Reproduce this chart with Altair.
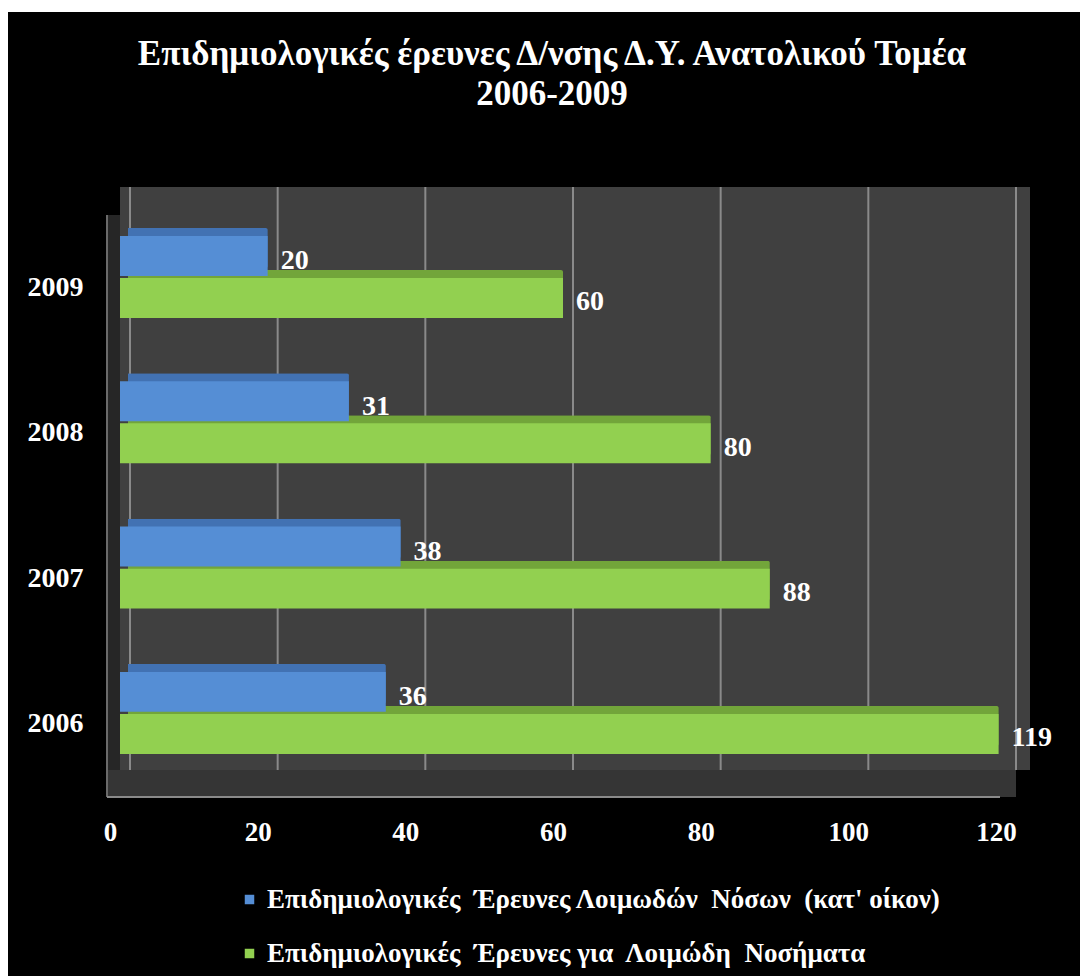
import altair as alt
import pandas as pd

# Survey counts per year, two survey types
years = ["2009", "2008", "2007", "2006"]
series = [
    "Επιδημιολογικές\u00a0 Έρευνες Λοιμωδών\u00a0 Νόσων\u00a0 (κατ' οίκον)",
    "Επιδημιολογικές\u00a0 Έρευνες για\u00a0 Λοιμώδη\u00a0 Νοσήματα",
]
household_surveys = [20, 31, 38, 36]
disease_surveys = [60, 80, 88, 119]
x_ticks = [0, 20, 40, 60, 80, 100, 120]

colors = ["#558ed5", "#92d050"]
dark_colors = ["#4272b3", "#72a53a"]

rows = []
for i, y in enumerate(years):
    rows.append({"year": y, "series": series[0], "value": household_surveys[i]})
    rows.append({"year": y, "series": series[1], "value": disease_surveys[i]})
df = pd.DataFrame(rows)
ticks_df = pd.DataFrame({"value": x_ticks})
wall_df = pd.DataFrame({"value": [x_ticks[0]], "hi": [x_ticks[-1]]})

W, H = 886, 610
PAD_L, PAD_T, PAD_R, PAD_B = 120, 187, 74, 179
FLOOR = 27      # depth of the floor strip
DEPTH = 8       # extrusion of each bar
SERIF = "Liberation Serif"

x_scale = alt.Scale(domain=[0, 120], nice=False, zero=True)
y_scale = alt.Scale(domain=years, paddingInner=0.436, paddingOuter=0.317, align=0.532)
off_scale = alt.Scale(domain=series, paddingInner=0.05)
# same sub-bands, lifted by the extrusion depth
bw = H / (len(years) - 0.436 + 2 * 0.317) * (1 - 0.436)
off_scale_back = alt.Scale(domain=series, paddingInner=0.05, range=[-DEPTH, bw - DEPTH])

x_axis = alt.Axis(title=None, values=x_ticks, domain=False, ticks=False, grid=False,
                  zindex=1, labelFont=SERIF, labelFontWeight="bold", labelFontSize=27,
                  labelColor="white", labelPadding=22, labelOffset=-10, labelFlush=False)
y_axis = alt.Axis(title=None, domain=False, ticks=False, grid=False, zindex=1,
                  labelFont=SERIF, labelFontWeight="bold", labelFontSize=28,
                  labelColor="white", labelPadding=37, labelOffset=11)

x_enc = alt.X("value:Q", scale=x_scale, axis=x_axis, title=None)
y_enc = alt.Y("year:N", scale=y_scale, sort=years, axis=y_axis, title=None)

# black card behind the whole chart, leaving a thin white strip at top and left
card = alt.Chart(wall_df).mark_rect(color="#000000").encode(
    x=alt.value(-PAD_L + 8), x2=alt.value(W + PAD_R),
    y=alt.value(-PAD_T + 12), y2=alt.value(H + PAD_B),
)

# back wall, side wall and floor of the plot box
wall = alt.Chart(wall_df).mark_rect(color="#404040", x2Offset=24).encode(
    x=x_enc, x2="hi:Q", y=alt.value(0), y2=alt.value(H - FLOOR),
)
side = alt.Chart(wall_df).mark_rect(color="#262626", xOffset=-13, x2Offset=10).encode(
    x=x_enc, x2="value:Q", y=alt.value(28), y2=alt.value(H),
)
floor = alt.Chart(wall_df).mark_rect(color="#353535", xOffset=-13, x2Offset=10).encode(
    x=x_enc, x2="hi:Q", y=alt.value(H - FLOOR), y2=alt.value(H),
)
edge = alt.Chart(wall_df).mark_rule(color="#8a8a8a", strokeWidth=2, xOffset=-13, x2Offset=-6).encode(
    x=x_enc, x2="hi:Q", y=alt.value(H),
)
side_edge = alt.Chart(wall_df).mark_rule(color="#6a6a6a", strokeWidth=2, xOffset=-13).encode(
    x=x_enc, y=alt.value(28), y2=alt.value(H),
)

grid = alt.Chart(ticks_df).mark_rule(color="#8a8a8a", strokeWidth=2, xOffset=10).encode(
    x=x_enc, y=alt.value(0), y2=alt.value(H - FLOOR),
)

# extruded depth behind each bar
depth = alt.Chart(df).mark_bar(xOffset=DEPTH, x2Offset=DEPTH, cornerRadius=2).encode(
    y=y_enc, x=x_enc,
    yOffset=alt.YOffset("series:N", scale=off_scale_back, sort=series),
    color=alt.condition(alt.datum.series == series[0],
                        alt.value(dark_colors[0]), alt.value(dark_colors[1])),
)

base = alt.Chart(df).encode(
    y=y_enc, x=x_enc,
    yOffset=alt.YOffset("series:N", scale=off_scale, sort=series),
)

bars = base.mark_bar().encode(
    color=alt.Color("series:N", scale=alt.Scale(domain=series, range=colors),
                    legend=alt.Legend(title=None, orient="none", legendX=116, legendY=699,
                                      direction="vertical", symbolType="square",
                                      symbolSize=90, symbolStrokeWidth=0,
                                      labelFont=SERIF, labelFontWeight="bold",
                                      labelFontSize=27, labelColor="white",
                                      labelLimit=1000, rowPadding=26, zindex=1)),
)

labels = base.mark_text(align="left", baseline="middle", dx=13, dy=5,
                        font=SERIF, fontWeight="bold", fontSize=28, color="white").encode(
    text="value:Q"
)

chart = alt.layer(card, side, floor, wall, side_edge, edge, grid, depth, bars, labels).resolve_scale(
    yOffset="independent"
).properties(
    width=W, height=H,
    autosize=alt.AutoSizeParams(type="none"),
    padding={"left": PAD_L, "top": PAD_T, "right": PAD_R, "bottom": PAD_B},
    background="white",
    title=alt.TitleParams(
        text=["Επιδημιολογικές έρευνες Δ/νσης Δ.Υ. Ανατολικού Τομέα", "2006-2009"],
        font=SERIF, fontWeight="bold", fontSize=35, color="white",
        lineHeight=40, anchor="middle", frame="group", offset=-100, dx=-11, zindex=1,
    ),
).configure_view(stroke=None)

chart.save("out.html", embed_options={"renderer": "svg", "actions": False})
